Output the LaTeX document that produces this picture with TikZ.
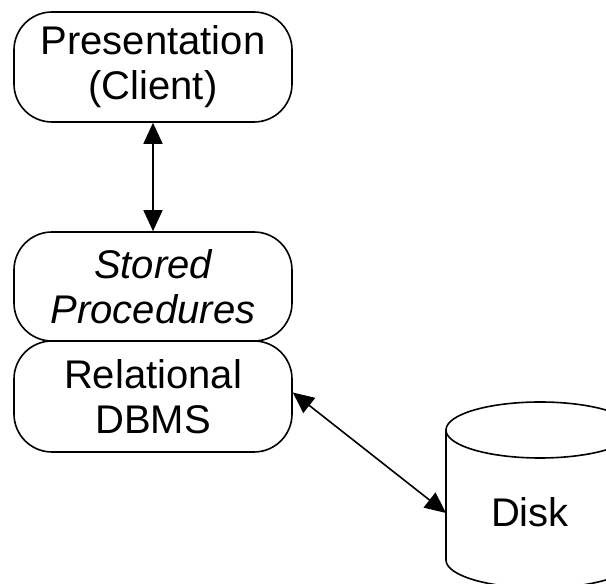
\documentclass[tikz,border=0pt]{standalone}
\usepackage{fontspec}
\setmainfont{Liberation Sans}
\usetikzlibrary{arrows.meta, positioning}

\begin{document}
\begin{tikzpicture}[
    x=1pt, y=1pt,
    tier/.style={
        rectangle,
        draw=black,
        line width=1.6pt,
        rounded corners=38pt,
        minimum width=278pt,
        minimum height=110pt,
        align=center,
        inner sep=0pt,
        font=\fontsize{40}{45}\selectfont
    },
    link/.style={
        {Triangle[length=21pt,width=19pt]}-{Triangle[length=21pt,width=19pt]},
        line width=1.6pt
    }
]

% Frame
\useasboundingbox (0, 0) rectangle (606, 584);
\clip (0, 0) rectangle (606, 584);

% Tiers
\node[tier] (pres) at (153, 517) {Presentation\\(Client)};
\node[tier, minimum height=109pt] (stored) at (153, 297.5) {\itshape Stored\\\itshape Procedures};
\node[tier, minimum height=111pt] (rdbms) at (153, 187.5) {Relational\\DBMS};

% Disk
\draw[line width=1.6pt] (540, 154) ellipse (94 and 28);
\draw[line width=1.6pt] (446, 154) -- (446, 24)
    arc[start angle=180, end angle=360, x radius=94, y radius=28] -- (634, 154);
\node[font=\fontsize{40}{45}\selectfont] (disk) at (530, 72) {Disk};
\coordinate (diskport) at (446, 71);

% Arrows
\draw[link] (pres.south) -- (stored.north);
\draw[link] ([yshift=4pt]rdbms.east) -- (diskport);

\end{tikzpicture}
\end{document}
